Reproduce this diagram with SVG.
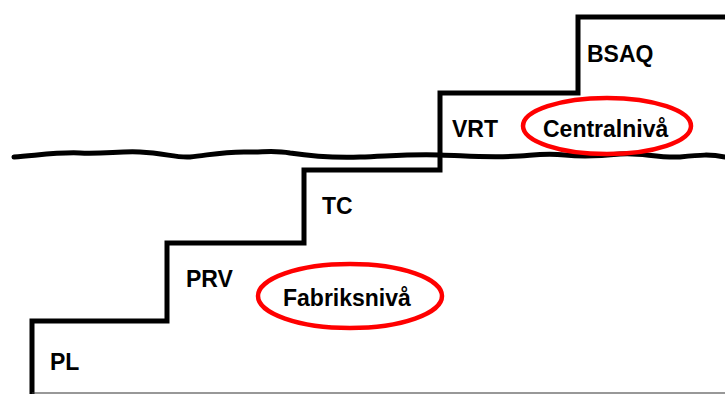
<svg xmlns="http://www.w3.org/2000/svg" width="725" height="394" viewBox="0 0 725 394">
  <style>
    .step { fill: none; stroke: #000; stroke-width: 5; stroke-linejoin: miter; stroke-linecap: square; }
    .wave { fill: none; stroke: #000; stroke-width: 5; stroke-linecap: round; stroke-linejoin: round; }
    .lbl { font-family: "Liberation Sans", Arial, sans-serif; font-weight: bold; font-size: 23px; fill: #000; }
    .ring { fill: none; stroke: #ff0000; stroke-width: 4.5; }
  </style>
  <rect width="725" height="394" fill="#fff"/>

  <g id="connectors">
    <!-- staircase outline -->
    <path class="step" d="M32,394 V321 H167 V243 H304 V170 H440 V93 H578 V17 H727"/>
    <!-- ground line -->
    <line x1="32" y1="393" x2="725" y2="393" stroke="#333" stroke-width="1.2"/>
    <!-- wavy divider between levels -->
    <path class="wave" d="M14,157 C40,155 60,152 80,153 C105,154 120,151 140,152 C165,153 175,158 190,157 C210,155 225,151 250,152 C265,152 275,150 290,153 C310,156 330,158 360,157 C390,156 410,154 440,155 C470,156 490,158 520,156 C535,155 545,153 565,155 C585,157 600,156 620,154 C640,152 655,158 680,157 C700,155 710,154 725,157"/>
  </g>

  <g id="PL"><text class="lbl" x="50" y="370">PL</text></g>
  <g id="PRV"><text class="lbl" x="186" y="287">PRV</text></g>
  <g id="TC"><text class="lbl" x="322" y="214">TC</text></g>
  <g id="VRT"><text class="lbl" x="452" y="137">VRT</text></g>
  <g id="BSAQ"><text class="lbl" x="587" y="62">BSAQ</text></g>

  <g id="Centralniva">
    <ellipse class="ring" cx="607" cy="126" rx="84" ry="28"/>
    <text class="lbl" x="543" y="137">Centralnivå</text>
  </g>
  <g id="Fabriksniva">
    <ellipse class="ring" cx="350" cy="296" rx="92" ry="32"/>
    <text class="lbl" x="283" y="306">Fabriksnivå</text>
  </g>
</svg>
